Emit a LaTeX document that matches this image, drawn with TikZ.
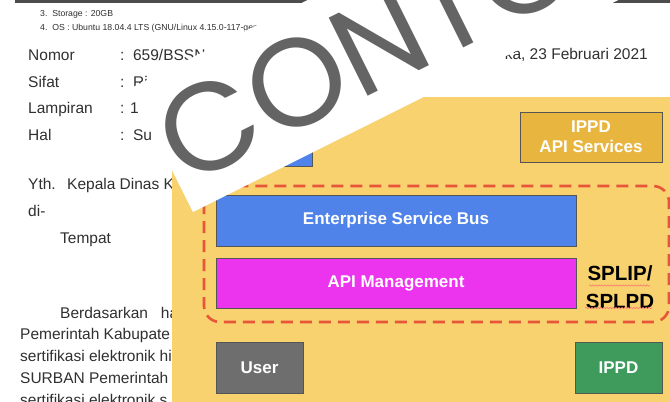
\documentclass[tikz,border=0pt]{standalone}
\usepackage{fontspec}
\setmainfont{Liberation Sans}
\newfontfamily\wmfont{Poppins}
\usetikzlibrary{decorations.pathmorphing}
\definecolor{panel}{HTML}{F7D26E}
\definecolor{doctext}{HTML}{303030}
\definecolor{wmgray}{HTML}{646464}
\definecolor{esbblue}{HTML}{4F83E9}
\definecolor{apimag}{HTML}{EC34EF}
\definecolor{usergray}{HTML}{6E6E6E}
\definecolor{ippdgreen}{HTML}{3E9B5C}
\definecolor{apigold}{HTML}{E8B63F}
\definecolor{dashred}{HTML}{E8553A}
\definecolor{boxline}{HTML}{555555}
\tikzset{
  doc/.style={anchor=base west, inner sep=0, text=doctext, font=\fontsize{15.5}{18}\selectfont},
  small/.style={anchor=base west, inner sep=0, text=doctext, font=\fontsize{8.7}{10}\selectfont},
  layer/.style={draw=boxline, line width=0.8pt, text=white, font=\bfseries\fontsize{17}{20}\selectfont, align=center, inner sep=0},
  squiggle/.style={draw=red!55, line width=0.5pt, decorate, decoration={snake, amplitude=0.7pt, segment length=3pt}}
}
\begin{document}
\begin{tikzpicture}[x=1pt,y=-1pt]
\clip (0,0) rectangle (670,402);
\fill[white] (0,0) rectangle (670,402);
% top line of the document screenshot
\coordinate (tl) at (15,1.3);
\coordinate (tr) at (670,1.3);
\draw[line width=2.4pt, draw=black!70] (tl) -- (tr);
% document text
\node[small] (s3) at (40,16) {3.\ \ Storage : 20GB};
\node[small] (s4) at (40,30) {4.\ \ OS : Ubuntu 18.04.4 LTS (GNU/Linux 4.15.0-117-gen};
\node[doc] (nomor) at (28,60) {Nomor};
\node[doc] (nomorv) at (120,60) {:\ \ 659/BSSN};
\node[doc] (date) at (648,59) [anchor=base east] {ka, 23 Februari 2021};
\node[doc] (sifat) at (28,87) {Sifat};
\node[doc] (sifatv) at (120,87) {:\ \ Ri};
\node[doc] (lamp) at (28,113) {Lampiran};
\node[doc] (lampv) at (120,113) {: 1};
\node[doc] (hal) at (28,140) {Hal};
\node[doc] (halv) at (120,140) {:\ \ Su};
\node[doc] (yth) at (28,189) {Yth.};
\node[doc] (kepala) at (67,189) {Kepala Dinas K};
\node[doc] (di) at (28,216) {di-};
\node[doc] (tempat) at (60,243) {Tempat};
\node[doc] (p1) at (60,318) {Berdasarkan\ \ \ ha};
\node[doc] (p2) at (20,339) {Pemerintah Kabupate};
\node[doc] (p3) at (20,361) {sertifikasi elektronik hi};
\node[doc] (p4) at (20,383) {SURBAN Pemerintah};
\node[doc] (p5) at (20,405) {sertifikasi elektronik s};
% yellow panel
\fill[panel] (172,97) rectangle (672,404);
\node[layer, fill=esbblue, minimum width=96pt, minimum height=54pt] (hidden) at (264,139) {};
\node[layer, fill=apigold, minimum width=142pt, minimum height=50pt] (apisvc) at (591,137) {IPPD\\API Services};
\node[layer, fill=esbblue, minimum width=360pt, minimum height=51pt] (esb) at (396,220.5) {Enterprise Service Bus};
\node[layer, fill=apimag, minimum width=360pt, minimum height=50pt] (apim) at (396,283) {API Management};
\node[layer, fill=usergray, minimum width=87pt, minimum height=51pt] (user) at (259.5,367.5) {User};
\node[layer, fill=ippdgreen, minimum width=87pt, minimum height=51pt] (ippd) at (618.5,367.5) {IPPD};
\node[inner sep=0, align=center, font=\bfseries\fontsize{20.5}{28}\selectfont] (splip) at (620,287) {SPLIP/\\SPLPD};
\coordinate (u1a) at (589,285.5);
\coordinate (u1b) at (650,285.5);
\coordinate (u2a) at (585,308);
\coordinate (u2b) at (652,308);
\path[squiggle] (u1a) -- (u1b);
\path[squiggle] (u2a) -- (u2b);
\coordinate (dA) at (204,186);
\coordinate (dB) at (669,322);
\draw[draw=dashred, line width=2.6pt, dash pattern=on 12pt off 7pt, rounded corners=16pt] (dA) rectangle (dB);
% white watermark band
\coordinate (bA) at (193,212);
\coordinate (bB) at (131,88);
\coordinate (bC) at (757,-224);
\coordinate (bD) at (819,-100);
\fill[white] (bA) -- (bB) -- (bC) -- (bD) -- cycle;
\node[inner sep=0, anchor=west, rotate=26.5, text=wmgray, font=\wmfont\fontsize{125}{125}\selectfont] (wm) at (166,148) {CONTOH};
\end{tikzpicture}
\end{document}
